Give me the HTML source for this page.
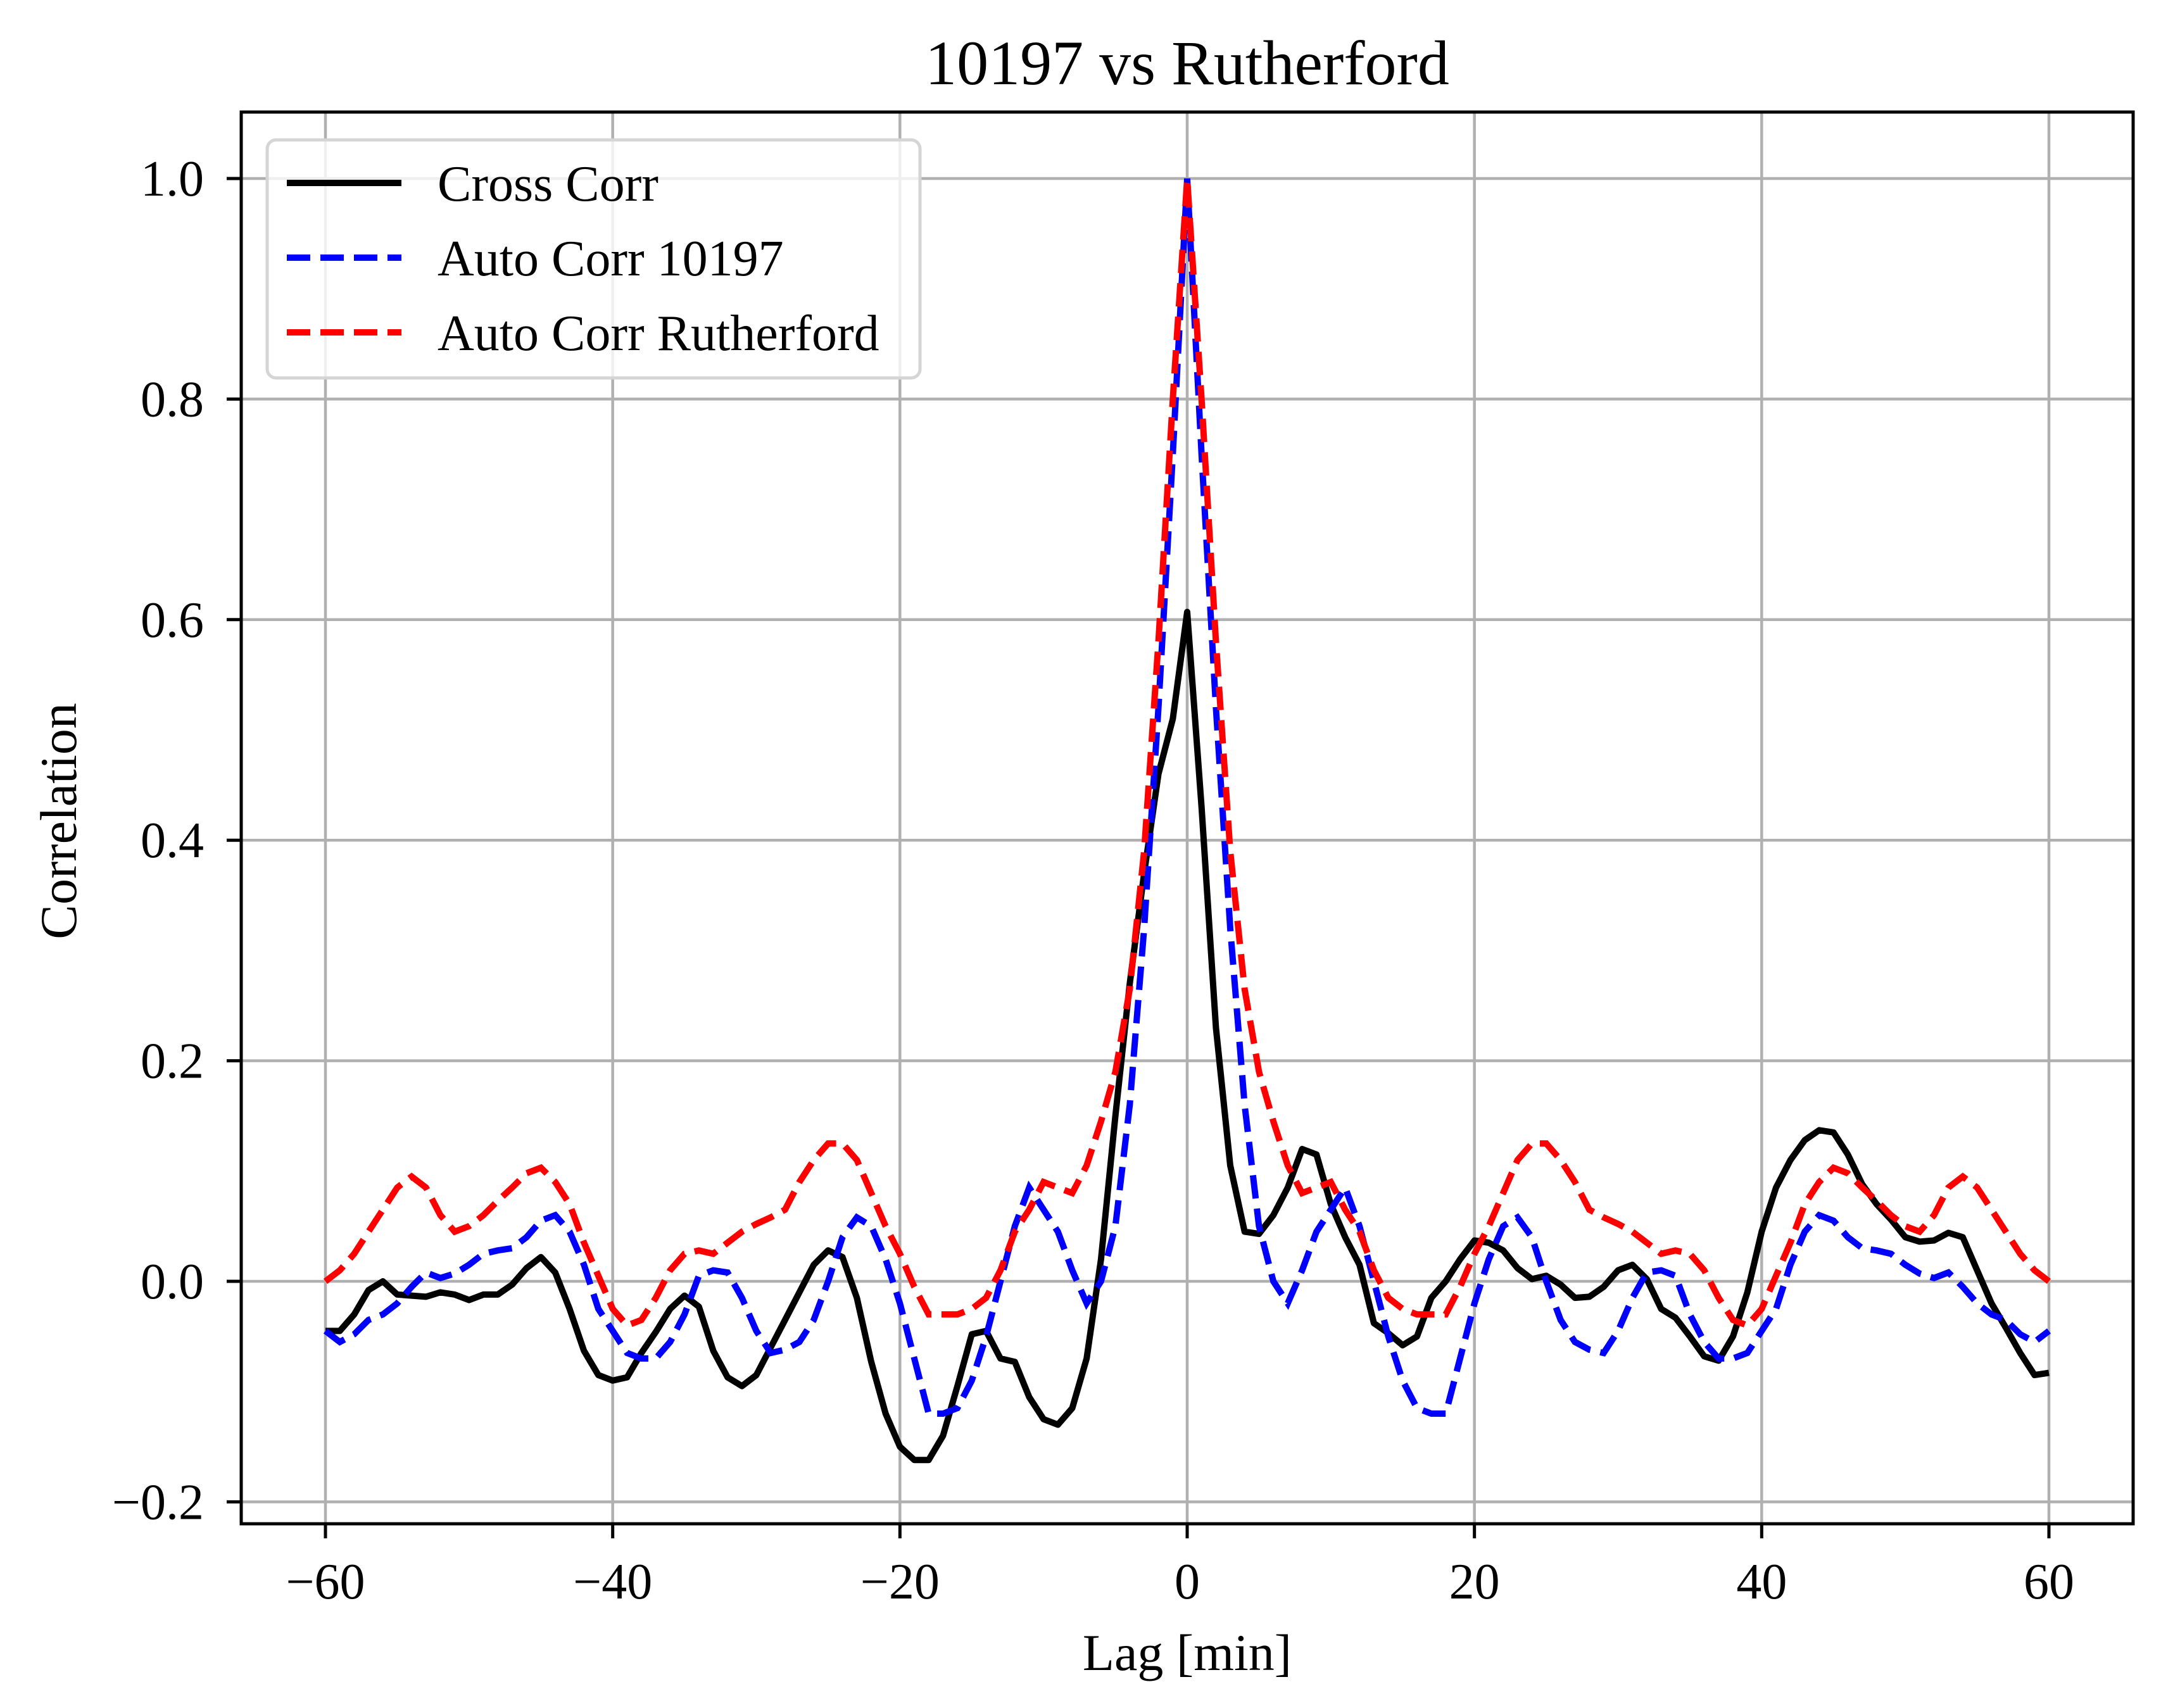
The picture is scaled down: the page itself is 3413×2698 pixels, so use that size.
<!DOCTYPE html>
<html><head><meta charset="utf-8"><style>
html,body{margin:0;padding:0;background:#fff;}
svg{display:block;font-family:"Liberation Serif","DejaVu Serif",serif;}
</style></head><body>
<svg id="chart" width="3413" height="2698" viewBox="0 0 3413 2698" xmlns="http://www.w3.org/2000/svg">
<rect width="3413" height="2698" fill="#fff"/>
<g id="grid"></g>
<g id="series"></g>
<rect x="381" y="177" width="2988" height="2230" fill="none" stroke="#000" stroke-width="5"/>
<g id="ticks"></g>
<text x="1875" y="133" font-size="100" text-anchor="middle">10197 vs Rutherford</text>
<text x="1875" y="2638" font-size="82" text-anchor="middle">Lag [min]</text>
<text x="0" y="0" font-size="82" text-anchor="middle" transform="translate(120,1297) rotate(-90)">Correlation</text>
<g>
<rect x="422" y="221" width="1031" height="376" rx="14" fill="#fff" fill-opacity="0.8" stroke="#d5d5d5" stroke-width="5"/>
<line x1="453" y1="289" x2="634" y2="289" stroke="#000" stroke-width="10"/>
<text x="691" y="317" font-size="80">Cross Corr</text>
<line x1="453" y1="407" x2="634" y2="407" stroke="#0000ff" stroke-width="10" stroke-dasharray="37,16"/>
<text x="691" y="435" font-size="80">Auto Corr 10197</text>
<line x1="453" y1="525" x2="634" y2="525" stroke="#ff0000" stroke-width="10" stroke-dasharray="37,16"/>
<text x="691" y="553" font-size="80">Auto Corr Rutherford</text>
</g>
</svg>
<script>
const lags = [];
for (let i = -60; i <= 60; i++) lags.push(i);
const xTicks = [-60, -40, -20, 0, 20, 40, 60];
const xTickLabels = ["\u221260", "\u221240", "\u221220", "0", "20", "40", "60"];
const yTicks = [-0.2, 0, 0.2, 0.4, 0.6, 0.8, 1.0];
const yTickLabels = ["\u22120.2", "0.0", "0.2", "0.4", "0.6", "0.8", "1.0"];
const crossCorr = [-0.045,-0.045,-0.03,-0.008,0.0,-0.012,-0.013,-0.014,-0.01,-0.012,-0.017,-0.012,-0.012,-0.003,0.012,0.022,0.008,-0.025,-0.063,-0.085,-0.09,-0.087,-0.065,-0.046,-0.025,-0.013,-0.023,-0.063,-0.087,-0.095,-0.085,-0.06,-0.035,-0.01,0.015,0.028,0.022,-0.015,-0.073,-0.12,-0.15,-0.162,-0.162,-0.14,-0.095,-0.048,-0.045,-0.07,-0.073,-0.105,-0.125,-0.13,-0.115,-0.07,0.02,0.15,0.27,0.37,0.46,0.51,0.607,0.43,0.23,0.105,0.045,0.043,0.06,0.085,0.12,0.115,0.07,0.04,0.015,-0.038,-0.047,-0.058,-0.05,-0.015,0.0,0.02,0.037,0.035,0.028,0.012,0.002,0.005,-0.003,-0.015,-0.014,-0.005,0.01,0.015,0.002,-0.025,-0.033,-0.05,-0.068,-0.072,-0.05,-0.01,0.045,0.085,0.11,0.128,0.137,0.135,0.115,0.088,0.07,0.056,0.04,0.036,0.037,0.044,0.04,0.01,-0.02,-0.042,-0.065,-0.085,-0.083];
const autoCorr10197Half = [1.0,0.75,0.52,0.32,0.16,0.05,0.0,-0.02,0.01,0.045,0.065,0.085,0.05,0.0,-0.05,-0.09,-0.115,-0.12,-0.12,-0.07,-0.02,0.02,0.05,0.058,0.04,0.0,-0.035,-0.055,-0.062,-0.065,-0.045,-0.015,0.008,0.01,0.005,-0.03,-0.055,-0.07,-0.07,-0.065,-0.045,-0.025,0.015,0.045,0.06,0.055,0.04,0.03,0.028,0.025,0.015,0.007,0.003,0.008,-0.005,-0.02,-0.03,-0.035,-0.048,-0.055,-0.045];
const autoCorrRutherfordHalf = [1.0,0.80,0.58,0.39,0.265,0.19,0.145,0.105,0.08,0.085,0.09,0.065,0.045,0.01,-0.015,-0.025,-0.03,-0.03,-0.03,-0.005,0.025,0.05,0.08,0.11,0.125,0.125,0.11,0.09,0.065,0.058,0.052,0.045,0.035,0.025,0.028,0.025,0.01,-0.015,-0.035,-0.04,-0.025,0.005,0.035,0.07,0.09,0.103,0.098,0.085,0.073,0.06,0.05,0.045,0.06,0.085,0.095,0.085,0.065,0.045,0.025,0.01,0.0];
function mirror(h){ return h.slice(1).reverse().concat(h); }
const autoCorr10197 = mirror(autoCorr10197Half);
const autoCorrRutherford = mirror(autoCorrRutherfordHalf);

const NS = "http://www.w3.org/2000/svg";
const xScale = v => 514 + (v + 60) * (3236 - 514) / 120;
const yScale = v => 2024 - v * 1742;
function mk(tag, attrs, parent){ const e=document.createElementNS(NS,tag); for(const k in attrs) e.setAttribute(k,attrs[k]); parent.appendChild(e); return e; }
const grid=document.getElementById('grid'), ticks=document.getElementById('ticks'), series=document.getElementById('series');
xTicks.forEach((t,i)=>{
  const x=xScale(t);
  const g=mk('line',{x1:x,y1:177,x2:x,y2:2407,stroke:'#b0b0b0','stroke-width':4.5},grid);
  
  
  const tk=mk('line',{x1:x,y1:2407,x2:x,y2:2430,stroke:'#000','stroke-width':5},ticks);
  
  
  const tl=mk('text',{x:x,y:2525,'font-size':80,'text-anchor':'middle'},ticks);
  tl.textContent=xTickLabels[i];
  
  
});
yTicks.forEach((t,i)=>{
  const y=yScale(t);
  const g=mk('line',{x1:381,y1:y,x2:3369,y2:y,stroke:'#b0b0b0','stroke-width':4.5},grid);
  
  
  const tk=mk('line',{x1:358,y1:y,x2:381,y2:y,stroke:'#000','stroke-width':5},ticks);
  
  
  const tl=mk('text',{x:322,y:y+27,'font-size':80,'text-anchor':'end'},ticks);
  tl.textContent=yTickLabels[i];
  
  
});
function pts(vals){ return vals.map((v,i)=>xScale(lags[i]).toFixed(1)+','+yScale(v).toFixed(1)).join(' '); }
const s1=mk('polyline',{points:pts(crossCorr),fill:'none',stroke:'#000','stroke-width':10,'stroke-linejoin':'round'},series);


const s2=mk('polyline',{points:pts(autoCorr10197),fill:'none',stroke:'#0000ff','stroke-width':10,'stroke-dasharray':'37,16'},series);


const s3=mk('polyline',{points:pts(autoCorrRutherford),fill:'none',stroke:'#ff0000','stroke-width':10,'stroke-dasharray':'37,16'},series);


</script>
</body></html>
